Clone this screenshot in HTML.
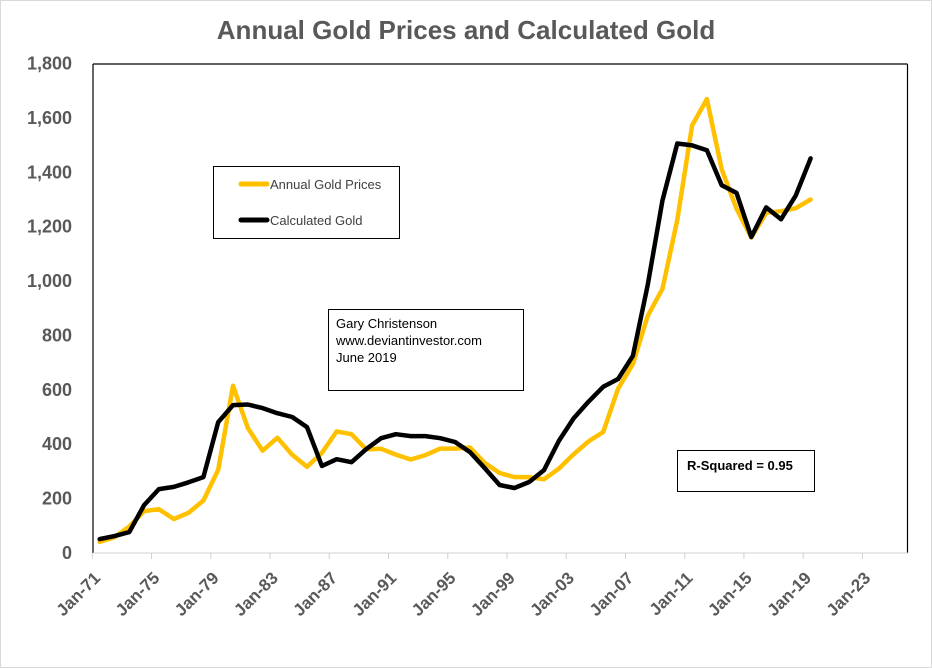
<!DOCTYPE html>
<html><head><meta charset="utf-8"><style>
html,body{margin:0;padding:0;background:#fff;}
svg{display:block;font-family:"Liberation Sans",Arial,sans-serif;}
</style></head><body>
<svg id="chart" width="932" height="668" viewBox="0 0 932 668" xmlns="http://www.w3.org/2000/svg">
<rect x="0.5" y="0.5" width="931" height="667" fill="#fff" stroke="#d9d9d9"/>
<text x="466" y="39" text-anchor="middle" font-size="26" font-weight="bold" fill="#595959">Annual Gold Prices and Calculated Gold</text>
<g id="yaxis"></g>
<g id="xaxis"></g>
<line x1="93" y1="64" x2="93" y2="553" stroke="#000" stroke-width="1.2"/>
<line x1="93" y1="64" x2="907.5" y2="64" stroke="#000" stroke-width="1.2"/>
<line x1="907.5" y1="64" x2="907.5" y2="553" stroke="#000" stroke-width="1.2"/>
<line x1="93" y1="553" x2="908" y2="553" stroke="#d0d0d0" stroke-width="1"/>
<g id="series"></g>
<g>
<rect x="213.5" y="166.5" width="186" height="72" fill="#fff" stroke="#000"/>
<line x1="241" y1="184" x2="267" y2="184" stroke="#FFC000" stroke-width="5" stroke-linecap="round"/>
<text x="270" y="189" font-size="13" fill="#404040">Annual Gold Prices</text>
<line x1="241" y1="220" x2="267" y2="220" stroke="#000" stroke-width="5" stroke-linecap="round"/>
<text x="270" y="225" font-size="13" fill="#404040">Calculated Gold</text>
</g>
<g>
<rect x="328.5" y="309.5" width="195" height="81" fill="#fff" stroke="#000"/>
<text x="336" y="328" font-size="13" fill="#000">Gary Christenson</text>
<text x="336" y="345" font-size="13" fill="#000">www.deviantinvestor.com</text>
<text x="336" y="362" font-size="13" fill="#000">June 2019</text>
</g>
<g>
<rect x="677.5" y="450.5" width="137" height="41" fill="#fff" stroke="#000"/>
<text x="687" y="470" font-size="13" font-weight="bold" fill="#000">R-Squared = 0.95</text>
</g>
</svg>
<script>
const years=[1971,1972,1973,1974,1975,1976,1977,1978,1979,1980,1981,1982,1983,1984,1985,1986,1987,1988,1989,1990,1991,1992,1993,1994,1995,1996,1997,1998,1999,2000,2001,2002,2003,2004,2005,2006,2007,2008,2009,2010,2011,2012,2013,2014,2015,2016,2017,2018,2019];
const goldPrices=[41,58,97,154,161,125,148,193,306,615,460,376,424,361,317,368,447,437,381,383,362,344,360,384,384,388,331,294,279,279,271,310,363,410,445,604,695,872,972,1225,1572,1669,1411,1266,1160,1251,1257,1268,1300];
const calculatedGold=[51,62,77,176,235,243,260,279,481,544,546,533,514,500,463,320,345,334,382,422,437,430,430,422,408,371,312,250,239,261,305,412,495,556,611,640,725,985,1297,1506,1499,1481,1352,1324,1162,1271,1227,1315,1451];
const yTicks=[0,200,400,600,800,1000,1200,1400,1600,1800];
const yTickLabels=["0","200","400","600","800","1,000","1,200","1,400","1,600","1,800"];
const xTickYears=[1971,1975,1979,1983,1987,1991,1995,1999,2003,2007,2011,2015,2019,2023];
const xTickLabels=["Jan-71","Jan-75","Jan-79","Jan-83","Jan-87","Jan-91","Jan-95","Jan-99","Jan-03","Jan-07","Jan-11","Jan-15","Jan-19","Jan-23"];

const NS="http://www.w3.org/2000/svg";
const X0=92.3,PXY=14.81,Y0=553,YTOP=63.5,YMAX=1800;
function xs(yr){return X0+(yr-1971)*PXY;}
function ys(v){return Y0-(v/YMAX)*(Y0-YTOP);}
function mk(t,a){const e=document.createElementNS(NS,t);for(const k in a)e.setAttribute(k,a[k]);return e;}

const ya=document.getElementById('yaxis');
yTicks.forEach((v,i)=>{
  const t=mk('text',{x:72,y:ys(v)+6,'text-anchor':'end','font-size':18,'font-weight':'bold',fill:'#595959'});
  
  
  t.textContent=yTickLabels[i];ya.appendChild(t);
});
const xa=document.getElementById('xaxis');
xTickYears.forEach((yr,i)=>{
  const x=xs(yr);
  const l=mk('line',{x1:x,y1:553,x2:x,y2:559,stroke:'#d0d0d0'});
  
  
  xa.appendChild(l);
  const tx=x+9,ty=579;
  const t=mk('text',{x:tx,y:ty,'text-anchor':'end','font-size':17,'font-weight':'bold',fill:'#595959',transform:`rotate(-45 ${tx} ${ty})`});
  
  
  t.textContent=xTickLabels[i];xa.appendChild(t);
});
const sg=document.getElementById('series');
function line(vals,color,name){
  const pts=vals.map((v,i)=>xs(years[i]+0.5).toFixed(1)+','+ys(v).toFixed(1)).join(' ');
  const p=mk('polyline',{points:pts,fill:'none',stroke:color,'stroke-width':4.5,'stroke-linejoin':'round','stroke-linecap':'round'});
  
  
  sg.appendChild(p);
}
line(goldPrices,'#FFC000','gold-price-line');
line(calculatedGold,'#000000','calculated-gold-line');
</script>
</body></html>
